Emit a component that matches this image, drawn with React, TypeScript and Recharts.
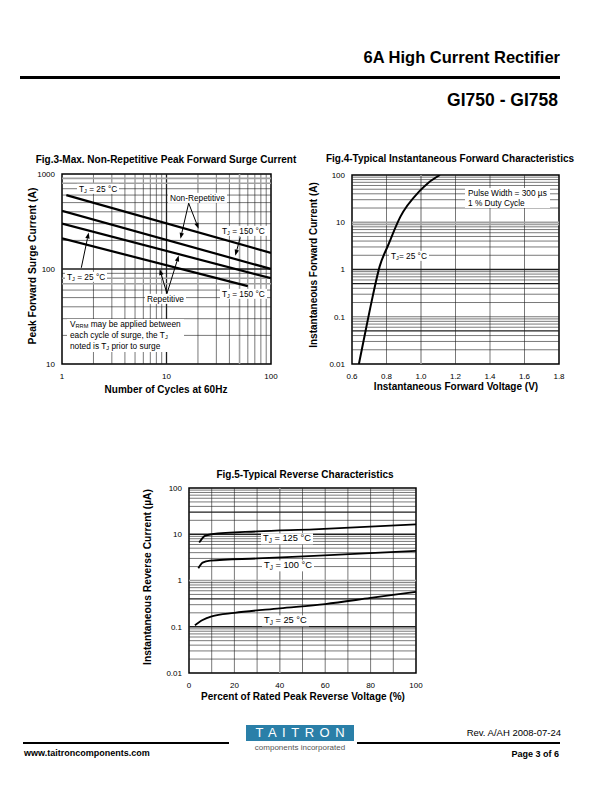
import React from 'react';
import { LineChart, Line, XAxis, YAxis, ReferenceLine, ReferenceArea } from 'recharts';

const FONT = '"Liberation Sans", Arial, Helvetica, sans-serif';

// ---------------- Fig.3 data ----------------
const fig3XTicks = [1, 10, 100];
const fig3YTicks = [10, 100, 1000];
const fig3GridX = [2, 3, 4, 5, 6, 7, 8, 9, 10, 20, 30, 40, 50, 60, 70, 80, 90];
const fig3GridY = [20, 30, 40, 50, 60, 70, 80, 90, 100, 200, 300, 400, 500, 600, 700, 800, 900];
const fig3GrayX = [50];
const fig3GrayY = [70, 80, 800, 900];
const fig3BoldX = [10];
const fig3BoldY = [100];
const fig3NonRep25Cycles = [1.1, 100];
const fig3NonRep25Amps = [600, 148];
const fig3NonRep150Cycles = [1, 100];
const fig3NonRep150Amps = [410, 100];
const fig3Rep25Cycles = [1, 100];
const fig3Rep25Amps = [300, 80];
const fig3Rep150Cycles = [1, 60];
const fig3Rep150Amps = [210, 66];
const fig3ArrowFrom: [number, number][] = [[16.3, 493], [16.3, 493], [50.8, 215], [1.53, 103], [10.1, 55], [10.1, 55]];
const fig3ArrowTo: [number, number][] = [[20.3, 265], [13.6, 208], [45.5, 138], [1.8, 242], [8.6, 100], [13.1, 139]];

// ---------------- Fig.4 data ----------------
const fig4XTicks = [0.6, 0.8, 1.0, 1.2, 1.4, 1.6, 1.8];
const fig4YTicks = [0.01, 0.1, 1, 10, 100];
const fig4GridX = [0.8, 1.0, 1.2, 1.4, 1.6];
const fig4GridY = [
  0.02, 0.03, 0.04, 0.05, 0.06, 0.07, 0.08, 0.09, 0.1,
  0.2, 0.3, 0.4, 0.5, 0.6, 0.7, 0.8, 0.9, 1,
  2, 3, 4, 5, 6, 7, 8, 9, 10,
  20, 30, 40, 50, 60, 70, 80, 90,
];
const fig4GrayX = [1.0];
const fig4GrayY = [9, 10];
const fig4BoldX: number[] = [];
const fig4BoldY = [0.05, 0.5, 1];
const fig4Volts = [0.64, 0.68, 0.72, 0.76, 0.81, 0.88, 0.99, 1.04, 1.11];
const fig4Amps = [0.01, 0.053, 0.27, 1.15, 3.3, 13, 45, 67, 100];

// ---------------- Fig.5 data ----------------
const fig5XTicks = [0, 20, 40, 60, 80, 100];
const fig5YTicks = [0.01, 0.1, 1, 10, 100];
const fig5GridX = [10, 20, 30, 40, 50, 60, 70, 80, 90];
const fig5GridY = fig4GridY;
const fig5GrayX = [40];
const fig5GrayY = [1];
const fig5BoldX: number[] = [];
const fig5BoldY = [0.1, 0.4, 10, 30];
const fig5T125Pct = [4.5, 7, 10, 30, 55, 100];
const fig5T125uA = [6.6, 9.2, 10, 11.5, 12.8, 16.4];
const fig5T100Pct = [4.1, 6, 9.3, 30, 55, 100];
const fig5T100uA = [1.84, 2.43, 2.68, 3.0, 3.4, 4.35];
const fig5T25Pct = [2.6, 6, 10, 20, 40, 60, 80, 100];
const fig5T25uA = [0.108, 0.14, 0.168, 0.2, 0.25, 0.31, 0.42, 0.57];

const pts = (xs: number[], ys: number[]) => xs.map((x, i) => ({ x, y: ys[i] }));

function Arrow(props: any) {
  const { x1, y1, x2, y2 } = props;
  const a = Math.atan2(y2 - y1, x2 - x1);
  const L = 6;
  const W = 2.2;
  const bx = x2 - L * Math.cos(a);
  const by = y2 - L * Math.sin(a);
  const p = `${x2},${y2} ${bx + W * Math.sin(a)},${by - W * Math.cos(a)} ${bx - W * Math.sin(a)},${by + W * Math.cos(a)}`;
  return (
    <g>
      <line x1={x1} y1={y1} x2={bx} y2={by} stroke="#000" strokeWidth={1} />
      <polygon points={p} fill="#000" />
    </g>
  );
}

function Txt({ x, y, size, bold = false, anchor = 'start', rotate = false, color = '#000', spacing = 0, children }: any) {
  const tx = anchor === 'middle' ? '-50%' : anchor === 'end' ? '-100%' : '0';
  return (
    <div
      style={{
        position: 'absolute',
        left: x,
        top: y,
        transform: `translate(${tx},-50%)${rotate ? ' rotate(-90deg)' : ''}`,
        fontSize: size,
        fontWeight: bold ? 700 : 400,
        lineHeight: 1.2,
        whiteSpace: 'nowrap',
        color,
        letterSpacing: spacing,
      }}
    >
      {children}
    </div>
  );
}

function Tag({ x, y, size = 8.3, children }: any) {
  return (
    <div
      style={{
        position: 'absolute',
        left: x,
        top: y,
        transform: 'translateY(-50%)',
        background: '#fff',
        padding: '0 2px',
        fontSize: size,
        lineHeight: `${size + 2}px`,
        whiteSpace: 'nowrap',
      }}
    >
      {children}
    </div>
  );
}

const Sub = ({ children }: any) => (
  <span style={{ fontSize: '0.68em', verticalAlign: '-0.25em', lineHeight: 0 }}>{children}</span>
);
const Tj = () => (
  <>
    T<Sub>J</Sub>
  </>
);

function gridLines(axis: 'x' | 'y', values: number[], gray: number[], bold: number[]) {
  return values.map((v) => {
    const g = gray.includes(v);
    const b = bold.includes(v);
    const stroke = g ? '#a0a0a0' : '#1e1e1e';
    const w = g ? 1.6 : b ? 1.3 : 0.6;
    const pos = axis === 'x' ? { x: v } : { y: v };
    return <ReferenceLine key={axis + v} {...pos} stroke={stroke} strokeWidth={w} ifOverflow="hidden" />;
  });
}

type Series = { x: number[]; y: number[]; curve: 'linear' | 'monotone'; width: number };

function Plot(props: any) {
  const {
    box, margin, yWidth, xHeight, xLog, xDomain, xTicks, xFmt, yDomain, yTicks,
    gridX, gridY, grayX, grayY, boldX, boldY, series, arrowFrom = [], arrowTo = [], tickSize = 8,
  } = props;
  const tickStyle = { fontSize: tickSize, fill: '#000', fontFamily: FONT };
  return (
    <div style={{ position: 'absolute', left: box.left, top: box.top }}>
      <LineChart width={box.width} height={box.height} margin={margin}>
        <XAxis
          dataKey="x"
          type="number"
          scale={xLog ? 'log' : 'linear'}
          domain={xDomain}
          ticks={xTicks}
          interval={0}
          allowDataOverflow
          axisLine={false}
          tickLine={false}
          tickSize={0}
          tickMargin={9}
          height={xHeight}
          tick={tickStyle}
          tickFormatter={xFmt}
        />
        <YAxis
          type="number"
          scale="log"
          domain={yDomain}
          ticks={yTicks}
          interval={0}
          allowDataOverflow
          axisLine={false}
          tickLine={false}
          tickSize={0}
          tickMargin={7}
          width={yWidth}
          tick={tickStyle}
          tickFormatter={(v: number) => String(v)}
        />
        {gridLines('x', gridX, grayX, boldX)}
        {gridLines('y', gridY, grayY, boldY)}
        {series.map((s: Series, i: number) => (
          <Line
            key={'s' + i}
            data={pts(s.x, s.y)}
            dataKey="y"
            type={s.curve}
            stroke="#000"
            strokeWidth={s.width}
            dot={false}
            activeDot={false}
            isAnimationActive={false}
          />
        ))}
        {arrowFrom.map((f: [number, number], i: number) => (
          <ReferenceLine
            key={'a' + i}
            segment={[{ x: f[0], y: f[1] }, { x: arrowTo[i][0], y: arrowTo[i][1] }]}
            stroke="#000"
            shape={(p: any) => <Arrow {...p} />}
          />
        ))}
        <ReferenceArea
          x1={xDomain[0]}
          x2={xDomain[1]}
          y1={yDomain[0]}
          y2={yDomain[1]}
          fill="none"
          fillOpacity={0}
          stroke="#000"
          strokeWidth={1.5}
        />
      </LineChart>
    </div>
  );
}

function Fig3() {
  return (
    <>
      <Txt x={166} y={160} size={10} bold anchor="middle">Fig.3-Max. Non-Repetitive Peak Forward Surge Current</Txt>
      <Plot
        box={{ left: 20, top: 164, width: 260, height: 220 }}
        margin={{ top: 10, right: 9, left: 0, bottom: 0 }}
        yWidth={42}
        xHeight={20}
        xLog
        xDomain={[1, 100]}
        xTicks={fig3XTicks}
        yDomain={[10, 1000]}
        yTicks={fig3YTicks}
        gridX={fig3GridX}
        gridY={fig3GridY}
        grayX={fig3GrayX}
        grayY={fig3GrayY}
        boldX={fig3BoldX}
        boldY={fig3BoldY}
        series={[
          { x: fig3NonRep25Cycles, y: fig3NonRep25Amps, curve: 'linear', width: 2.2 },
          { x: fig3NonRep150Cycles, y: fig3NonRep150Amps, curve: 'linear', width: 2.2 },
          { x: fig3Rep25Cycles, y: fig3Rep25Amps, curve: 'linear', width: 2.2 },
          { x: fig3Rep150Cycles, y: fig3Rep150Amps, curve: 'linear', width: 2.2 },
        ]}
        arrowFrom={fig3ArrowFrom}
        arrowTo={fig3ArrowTo}
      />
      <Tag x={77} y={189}><Tj /> = 25 °C</Tag>
      <Tag x={168} y={198}>Non-Repetitive</Tag>
      <Tag x={220} y={231}><Tj /> = 150 °C</Tag>
      <Tag x={65} y={277}><Tj /> = 25 °C</Tag>
      <Tag x={145} y={299}>Repetitive</Tag>
      <Tag x={220} y={294}><Tj /> = 150 °C</Tag>
      <div
        style={{
          position: 'absolute',
          left: 67,
          top: 319,
          background: '#fff',
          padding: '0 3px',
          fontSize: 8.3,
          lineHeight: '11px',
          whiteSpace: 'nowrap',
        }}
      >
        <div>V<Sub>RRM</Sub> may be applied between</div>
        <div>each cycle of surge, the <Tj /></div>
        <div>noted is <Tj /> prior to surge</div>
      </div>
      <Txt x={166} y={390} size={10} bold anchor="middle">Number of Cycles at 60Hz</Txt>
      <Txt x={33} y={266} size={10.3} bold anchor="middle" rotate>Peak Forward Surge Current (A)</Txt>
    </>
  );
}

function Fig4() {
  return (
    <>
      <Txt x={450} y={159} size={10} bold anchor="middle">Fig.4-Typical Instantaneous Forward Characteristics</Txt>
      <Plot
        box={{ left: 310, top: 165, width: 255, height: 220 }}
        margin={{ top: 10, right: 6, left: 0, bottom: 0 }}
        yWidth={42}
        xHeight={21}
        xLog={false}
        xDomain={[0.6, 1.8]}
        xTicks={fig4XTicks}
        xFmt={(v: number) => v.toFixed(1)}
        yDomain={[0.01, 100]}
        yTicks={fig4YTicks}
        gridX={fig4GridX}
        gridY={fig4GridY}
        grayX={fig4GrayX}
        grayY={fig4GrayY}
        boldX={fig4BoldX}
        boldY={fig4BoldY}
        series={[{ x: fig4Volts, y: fig4Amps, curve: 'monotone', width: 2 }]}
      />
      <div
        style={{
          position: 'absolute',
          left: 465,
          top: 187.5,
          background: '#fff',
          padding: '0 3px',
          fontSize: 8.3,
          lineHeight: '10px',
          whiteSpace: 'nowrap',
        }}
      >
        <div>Pulse Width = 300 µs</div>
        <div>1 % Duty Cycle</div>
      </div>
      <Tag x={389} y={256}><Tj />= 25 °C</Tag>
      <Txt x={456} y={387} size={10} bold anchor="middle">Instantaneous Forward Voltage (V)</Txt>
      <Txt x={314} y={265} size={10} bold anchor="middle" rotate>Instantaneous Forward Current (A)</Txt>
    </>
  );
}

function Fig5() {
  return (
    <>
      <Txt x={305} y={475} size={10} bold anchor="middle">Fig.5-Typical Reverse Characteristics</Txt>
      <Plot
        box={{ left: 145, top: 478, width: 280, height: 215 }}
        margin={{ top: 10, right: 9, left: 0, bottom: 0 }}
        yWidth={44}
        xHeight={20}
        xLog={false}
        xDomain={[0, 100]}
        xTicks={fig5XTicks}
        yDomain={[0.01, 100]}
        yTicks={fig5YTicks}
        gridX={fig5GridX}
        gridY={fig5GridY}
        grayX={fig5GrayX}
        grayY={fig5GrayY}
        boldX={fig5BoldX}
        boldY={fig5BoldY}
        series={[
          { x: fig5T125Pct, y: fig5T125uA, curve: 'monotone', width: 1.8 },
          { x: fig5T100Pct, y: fig5T100uA, curve: 'monotone', width: 1.8 },
          { x: fig5T25Pct, y: fig5T25uA, curve: 'monotone', width: 1.8 },
        ]}
      />
      <Tag x={261} y={539} size={9.3}><Tj /> = 125 °C</Tag>
      <Tag x={262} y={566} size={9.3}><Tj /> = 100 °C</Tag>
      <Tag x={262} y={621} size={9.3}><Tj /> = 25 °C</Tag>
      <Txt x={303} y={697} size={10} bold anchor="middle">Percent of Rated Peak Reverse Voltage (%)</Txt>
      <Txt x={148} y={577} size={10.3} bold anchor="middle" rotate>Instantaneous Reverse Current (µA)</Txt>
    </>
  );
}

export default function App() {
  return (
    <div
      style={{
        position: 'absolute',
        left: 0,
        top: 0,
        width: 612,
        height: 792,
        background: '#fff',
        fontFamily: FONT,
        color: '#000',
        overflow: 'hidden',
      }}
    >
      {/* header */}
      <Txt x={560} y={58} size={16.5} bold anchor="end">6A High Current Rectifier</Txt>
      <div style={{ position: 'absolute', left: 20, top: 76, width: 540, height: 3, background: '#000' }} />
      <Txt x={558} y={100} size={17.5} bold anchor="end">GI750 - GI758</Txt>

      <Fig3 />
      <Fig4 />
      <Fig5 />

      {/* footer */}
      <div style={{ position: 'absolute', left: 23, top: 741.5, width: 206, height: 2, background: '#000' }} />
      <div style={{ position: 'absolute', left: 357, top: 741.5, width: 203, height: 2, background: '#000' }} />
      <div
        style={{
          position: 'absolute',
          left: 246,
          top: 725,
          width: 108,
          height: 16,
          background: '#2a7fa8',
          color: '#fff',
          fontSize: 13,
          lineHeight: '16px',
          textAlign: 'center',
          letterSpacing: 5.5,
          textIndent: 5.5,
        }}
      >
        TAITRON
      </div>
      <Txt x={300} y={747.5} size={8} anchor="middle" color="#555">components incorporated</Txt>
      <Txt x={561} y={733} size={9.5} anchor="end">Rev. A/AH 2008-07-24</Txt>
      <Txt x={24} y={753} size={9} bold>www.taitroncomponents.com</Txt>
      <Txt x={559} y={754} size={9} bold anchor="end">Page 3 of 6</Txt>
    </div>
  );
}
